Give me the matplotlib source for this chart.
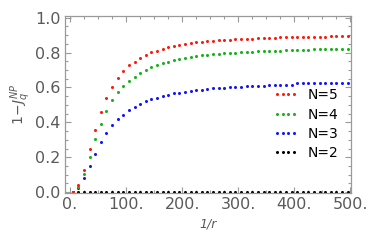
import numpy as np
import matplotlib
matplotlib.use("Agg")
import matplotlib.pyplot as plt
from matplotlib.ticker import MultipleLocator, FuncFormatter

# 1/r sample points
inv_r = np.arange(5, 500, 10)

# one value per sample point
n5 = [0.0, 0.042, 0.127, 0.246, 0.356, 0.457, 0.537, 0.603, 0.655, 0.697,
      0.728, 0.749, 0.767, 0.786, 0.801, 0.812, 0.821, 0.831, 0.840, 0.846,
      0.851, 0.857, 0.862, 0.862, 0.866, 0.866, 0.872, 0.872, 0.872, 0.876,
      0.878, 0.878, 0.878, 0.886, 0.886, 0.886, 0.886, 0.888, 0.891, 0.891,
      0.891, 0.891, 0.891, 0.891, 0.891, 0.891, 0.897, 0.897, 0.897, 0.897]
n4 = [0.0, 0.032, 0.103, 0.203, 0.305, 0.390, 0.466, 0.528, 0.573, 0.609,
      0.639, 0.661, 0.684, 0.703, 0.715, 0.727, 0.739, 0.749, 0.755, 0.761,
      0.767, 0.773, 0.779, 0.786, 0.785, 0.790, 0.792, 0.796, 0.796, 0.796,
      0.802, 0.802, 0.802, 0.807, 0.807, 0.807, 0.807, 0.812, 0.813, 0.813,
      0.813, 0.813, 0.813, 0.819, 0.819, 0.819, 0.819, 0.819, 0.819, 0.819]
n3 = [0.0, 0.026, 0.080, 0.152, 0.221, 0.286, 0.339, 0.385, 0.421, 0.444,
      0.470, 0.489, 0.505, 0.523, 0.533, 0.539, 0.550, 0.558, 0.566, 0.571,
      0.575, 0.581, 0.586, 0.586, 0.590, 0.596, 0.596, 0.596, 0.602, 0.602,
      0.602, 0.607, 0.607, 0.607, 0.609, 0.613, 0.613, 0.613, 0.613, 0.613,
      0.623, 0.623, 0.623, 0.623, 0.623, 0.623, 0.623, 0.623, 0.623, 0.628]
n2 = [0.0] * 50

labels = ["N=5", "N=4", "N=3", "N=2"]
colors = ["#ff1a0d", "#17b317", "#1414ff", "#000000"]
series = [n5, n4, n3, n2]

gray = "#9a9a9a"
tgray = "#5a5a5a"

fig = plt.figure(figsize=(3.70, 2.41), dpi=100)
ax = fig.add_axes([65/370, 1 - 193/241, (351-65)/370, (193-16)/241])

# draw N=2 first so N=5 ends up on top
handles = []
for lab, col, ys in list(zip(labels, colors, series))[::-1]:
    h, = ax.plot(inv_r, ys, linestyle="none", marker="o", markersize=2.2,
                 markeredgewidth=0, color=col, label=lab)
    handles.append(h)
handles = handles[::-1]

ax.set_xlim(-9, 501)
ax.set_ylim(-0.005, 1.01)

ax.xaxis.set_major_locator(MultipleLocator(100))
ax.xaxis.set_minor_locator(MultipleLocator(25))
ax.yaxis.set_major_locator(MultipleLocator(0.2))
ax.yaxis.set_minor_locator(MultipleLocator(0.05))
ax.xaxis.set_major_formatter(FuncFormatter(lambda v, p: "%d." % round(v)))
ax.yaxis.set_major_formatter(FuncFormatter(lambda v, p: "%.1f" % v))

ax.tick_params(which="both", direction="in", top=True, right=True,
               color=gray, width=0.8, labelcolor=tgray, labelsize=11.5)
ax.tick_params(which="major", length=4.3, pad=3)
ax.tick_params(which="minor", length=2.2)
for s in ax.spines.values():
    s.set_color(gray)
    s.set_linewidth(0.9)

ax.set_xlabel("1/r", fontstyle="italic", color=tgray, fontsize=9, labelpad=4)
ax.set_ylabel(r"$1\!-\!J_q^{NP}$", color=tgray, fontsize=10, labelpad=2)

ax.legend(handles=handles, loc="lower right", bbox_to_anchor=(1.0, 0.115),
          frameon=False, numpoints=4, handlelength=1.8, handletextpad=0.7,
          labelspacing=0.38, fontsize=10, markerscale=1.0)

fig.savefig("out.png", dpi=100)
